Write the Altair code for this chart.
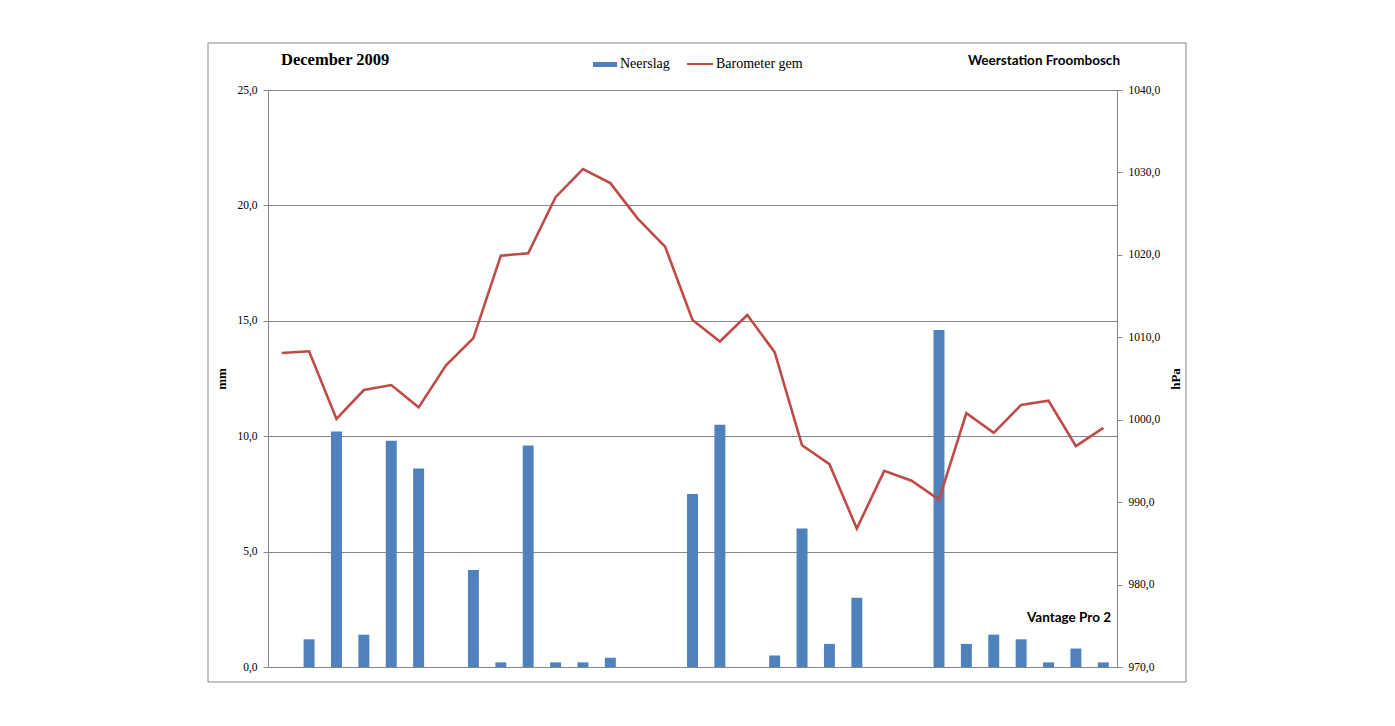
import altair as alt
import pandas as pd

days = list(range(1, 32))
neerslag = [0.0, 1.2, 10.2, 1.4, 9.8, 8.6, 0.0, 4.2, 0.2, 9.6, 0.2, 0.2, 0.4, 0.0, 0.0,
            7.5, 10.5, 0.0, 0.5, 6.0, 1.0, 3.0, 0.0, 0.0, 14.6, 1.0, 1.4, 1.2, 0.2, 0.8, 0.2]
barometer = [1008.1, 1008.3, 1000.1, 1003.6, 1004.2, 1001.5, 1006.6, 1009.9, 1019.9, 1020.2,
             1027.0, 1030.4, 1028.7, 1024.4, 1021.0, 1012.1, 1009.5, 1012.7, 1008.2, 996.9,
             994.6, 986.8, 993.8, 992.6, 990.3, 1000.8, 998.4, 1001.8, 1002.3, 996.8, 999.0]
mm_ticks = [0, 5, 10, 15, 20, 25]
hpa_ticks = [970, 980, 990, 1000, 1010, 1020, 1030, 1040]

df = pd.DataFrame({"dag": days, "Neerslag": neerslag, "Barometer gem": barometer})

W, H = 849, 577
BLUE = "#4F81BD"
RED = "#BE4B48"
GRID = "#868686"
SERIF = "Liberation Serif"
SANS = "Lato"

xenc = alt.X("dag:O", title=None,
             scale=alt.Scale(paddingInner=0.6, paddingOuter=0.3),
             axis=alt.Axis(labels=False, ticks=False, domainColor=GRID, grid=False))

bars = alt.Chart(df).mark_bar(color=BLUE).encode(
    x=xenc,
    y=alt.Y("Neerslag:Q", title="mm",
            scale=alt.Scale(domain=[0, 25], nice=False, zero=True),
            axis=alt.Axis(orient="left", values=mm_ticks, grid=True, gridColor=GRID,
                          gridOpacity=1, domainColor=GRID, tickColor=GRID, tickSize=5,
                          labelPadding=6, labelFont=SERIF, labelFontSize=11.5,
                          labelColor="#000000",
                          labelExpr="replace(format(datum.value, '.1f'), '.', ',')",
                          titleFont=SERIF, titleFontSize=13, titleFontWeight="bold",
                          titleColor="#000000", titleAngle=270, titleAlign="center",
                          titleBaseline="middle", titleX=-47, titleY=H / 2)),
)

line = alt.Chart(df).mark_line(color=RED, strokeWidth=2.6).encode(
    x=xenc,
    y=alt.Y("Barometer gem:Q", title="hPa",
            scale=alt.Scale(domain=[970, 1040], nice=False, zero=False),
            axis=alt.Axis(orient="right", values=hpa_ticks, grid=False,
                          domainColor=GRID, tickColor=GRID, tickSize=5,
                          labelPadding=6, labelFont=SERIF, labelFontSize=11.5,
                          labelColor="#000000",
                          labelExpr="replace(format(datum.value, '.1f'), '.', ',')",
                          titleFont=SERIF, titleFontSize=13, titleFontWeight="bold",
                          titleColor="#000000", titleAngle=270, titleAlign="center",
                          titleBaseline="middle", titleX=58, titleY=H / 2)),
)

one = alt.Data(values=[{}])

frame = alt.Chart(one).mark_rect(fill=None, stroke=GRID, strokeWidth=1).encode(
    x=alt.value(-60), x2=alt.value(918), y=alt.value(-47), y2=alt.value(592))

def txt(s, x, y, font, size, weight="normal", align="left"):
    return alt.Chart(one).mark_text(text=s, font=font, fontSize=size, fontWeight=weight,
                                    align=align, baseline="middle", color="#000000").encode(
        x=alt.value(x), y=alt.value(y))

t1 = txt("December 2009", 13, -30, SERIF, 16.5, "bold")
t2 = txt("Weerstation Froombosch", 852, -29, SANS, 13.5, "bold", "right")
t3 = txt("Vantage Pro 2", 843, 528, SANS, 13.5, "bold", "right")

leg_rect = alt.Chart(one).mark_rect(color=BLUE).encode(
    x=alt.value(325), x2=alt.value(349), y=alt.value(-28), y2=alt.value(-23))
leg_line = alt.Chart(one).mark_rule(color=RED, strokeWidth=2).encode(
    x=alt.value(419), x2=alt.value(445), y=alt.value(-26))
leg_t1 = txt("Neerslag", 352, -26, SERIF, 14)
leg_t2 = txt("Barometer gem", 448, -26, SERIF, 14)

chart = alt.layer(frame, bars, line, t1, t2, t3, leg_rect, leg_line, leg_t1, leg_t2).resolve_scale(
    y="independent"
).properties(
    width=W, height=H,
    padding={"left": 260, "top": 82, "right": 260, "bottom": 40},
    autosize=alt.AutoSizeParams(type="none"),
).configure_view(stroke=None).configure(background="#ffffff")

chart.save("out.html", embed_options={"renderer": "svg", "actions": False})
